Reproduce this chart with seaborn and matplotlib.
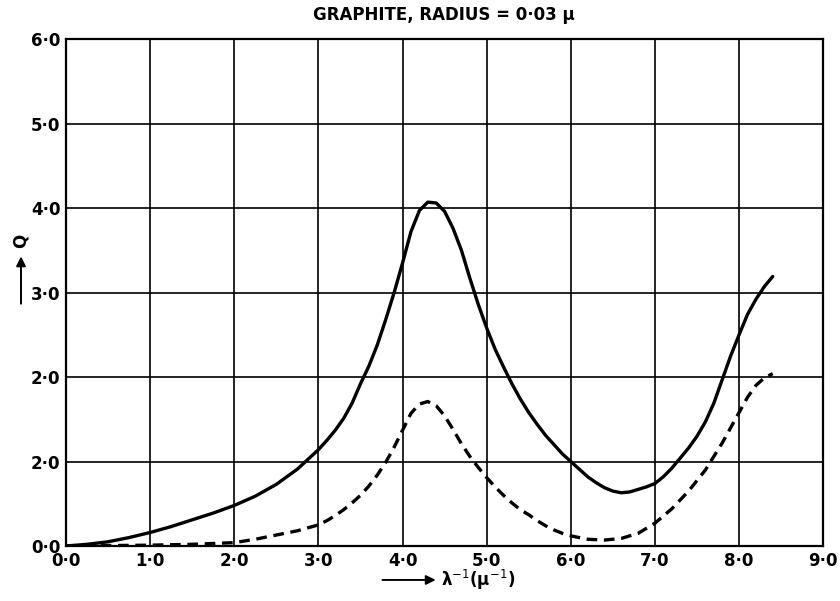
import matplotlib
matplotlib.use("Agg")
import matplotlib.pyplot as plt
import seaborn as sns
import pandas as pd

# values
solid_x = [0.0, 0.25, 0.5, 0.75, 1.0, 1.25, 1.5, 1.75, 2.0, 2.25, 2.5, 2.75, 3.0, 3.1, 3.2,
           3.3, 3.4, 3.5, 3.6, 3.7, 3.8, 3.9, 4.0, 4.1, 4.2, 4.3, 4.4, 4.5, 4.6, 4.7, 4.8,
           4.9, 5.0, 5.1, 5.2, 5.3, 5.4, 5.5, 5.6, 5.7, 5.8, 5.9, 6.0, 6.1, 6.2, 6.3, 6.4,
           6.5, 6.6, 6.7, 6.8, 6.9, 7.0, 7.1, 7.2, 7.3, 7.4, 7.5, 7.6, 7.7, 7.8, 7.9, 8.0,
           8.1, 8.2, 8.3, 8.4]
solid_q = [0.0, 0.02, 0.05, 0.1, 0.16, 0.23, 0.31, 0.39, 0.48, 0.59, 0.73, 0.91, 1.14, 1.25, 1.37,
           1.51, 1.69, 1.92, 2.13, 2.38, 2.68, 3.0, 3.35, 3.72, 3.97, 4.07, 4.06, 3.96, 3.76, 3.5, 3.17,
           2.86, 2.58, 2.33, 2.12, 1.92, 1.74, 1.58, 1.44, 1.31, 1.2, 1.09, 1.0, 0.91, 0.82, 0.75, 0.69,
           0.65, 0.63, 0.64, 0.67, 0.7, 0.74, 0.82, 0.92, 1.04, 1.16, 1.3, 1.47, 1.69, 1.97, 2.25, 2.5,
           2.74, 2.92, 3.07, 3.19]

dashed_x = [0.0, 1.0, 1.5, 2.0, 2.25, 2.5, 2.75, 3.0, 3.1, 3.2, 3.3, 3.4, 3.5, 3.6, 3.7, 3.8,
            3.9, 4.0, 4.1, 4.2, 4.3, 4.4, 4.5, 4.6, 4.7, 4.8, 4.9, 5.0, 5.1, 5.2, 5.3, 5.4,
            5.5, 5.6, 5.7, 5.8, 5.9, 6.0, 6.2, 6.4, 6.6, 6.8, 7.0, 7.2, 7.4, 7.6, 7.8, 8.0,
            8.1, 8.2, 8.3, 8.4]
dashed_q = [0.0, 0.01, 0.02, 0.04, 0.08, 0.13, 0.18, 0.25, 0.3, 0.36, 0.43, 0.51, 0.6, 0.71, 0.84, 0.99,
            1.17, 1.37, 1.57, 1.68, 1.71, 1.66, 1.54, 1.38, 1.21, 1.06, 0.93, 0.81, 0.7, 0.6, 0.51, 0.43,
            0.37, 0.3, 0.24, 0.19, 0.15, 0.12, 0.08, 0.07, 0.09, 0.15, 0.27, 0.44, 0.65, 0.9, 1.22, 1.58,
            1.76, 1.9, 1.99, 2.04]

x_ticks = [0, 1, 2, 3, 4, 5, 6, 7, 8, 9]
x_labels = ["0·0", "1·0", "2·0", "3·0", "4·0", "5·0", "6·0", "7·0", "8·0", "9·0"]
y_ticks = [0, 1, 2, 3, 4, 5, 6]
y_labels = ["0·0", "2·0", "2·0", "3·0", "4·0", "5·0", "6·0"]

sns.set_style("white")
plt.rcParams["font.family"] = ["DejaVu Sans"]
plt.rcParams["text.color"] = "black"
plt.rcParams["xtick.color"] = "black"
plt.rcParams["ytick.color"] = "black"

fig = plt.figure(figsize=(8.4, 6.01), dpi=100)
ax = fig.add_axes([0.0786, 0.0915, 0.9014, 0.8435])

df_solid = pd.DataFrame({"x": solid_x, "q": solid_q})
df_dash = pd.DataFrame({"x": dashed_x, "q": dashed_q})

sns.lineplot(data=df_solid, x="x", y="q", ax=ax, color="black", linewidth=2.4)
sns.lineplot(data=df_dash, x="x", y="q", ax=ax, color="black", linewidth=2.4)
ax.lines[1].set_linestyle((0, (3.2, 2.0)))
for ln in ax.lines:
    ln.set_solid_joinstyle("round")
    ln.set_dash_joinstyle("round")

ax.set_xlim(0, 9)
ax.set_ylim(0, 6)
ax.set_xticks(x_ticks)
ax.set_xticklabels(x_labels, fontsize=12, fontweight="bold")
ax.set_yticks(y_ticks)
ax.set_yticklabels(y_labels, fontsize=12, fontweight="bold")
ax.tick_params(length=0, pad=4)
ax.grid(True, color="black", linewidth=1.2)
for s in ax.spines.values():
    s.set_color("black")
    s.set_linewidth(1.6)
ax.set_xlabel("")
ax.set_ylabel("")

fig.text(0.528, 0.975, "GRAPHITE, RADIUS = 0·03 μ", ha="center", va="center",
         fontsize=12, fontweight="bold")

# axis labels with arrows
fig.text(0.025, 0.60, "Q", rotation=90, ha="center", va="center", fontsize=12, fontweight="bold")
fig.add_artist(matplotlib.patches.FancyArrowPatch((0.025, 0.49), (0.025, 0.578),
               transform=fig.transFigure, arrowstyle="-|>", mutation_scale=14,
               color="black", linewidth=1.4))
fig.add_artist(matplotlib.patches.FancyArrowPatch((0.452, 0.035), (0.522, 0.035),
               transform=fig.transFigure, arrowstyle="-|>", mutation_scale=14,
               color="black", linewidth=1.4))
fig.text(0.525, 0.035, "λ$^{-1}$(μ$^{-1}$)", ha="left", va="center", fontsize=12, fontweight="bold")

fig.savefig("out.png", dpi=100)
